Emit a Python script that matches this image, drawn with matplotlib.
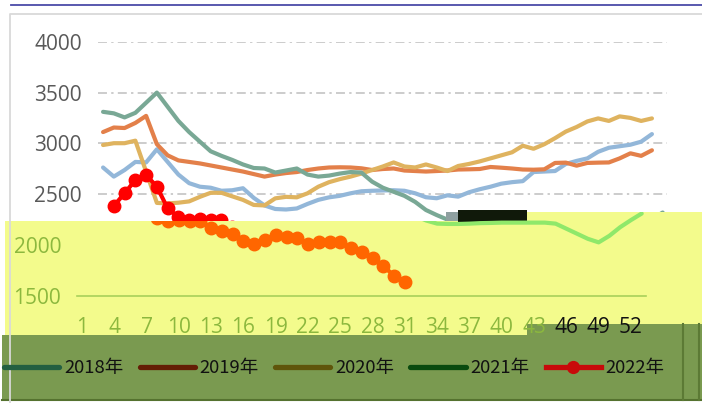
import numpy as np
import matplotlib.pyplot as plt
from matplotlib.patches import Polygon
from matplotlib.lines import Line2D

plt.rcParams['font.family'] = ['Open Sans', 'DejaVu Sans']

# ---- data ----
years = ['2018年', '2019年', '2020年', '2021年', '2022年']
weeks = np.arange(1, 53)
weeks_2021 = np.arange(1, 54)
weeks_2022 = np.arange(2, 32)

s2018 = [2760, 2670, 2735, 2815, 2810, 2940, 2815, 2690, 2605, 2570,
         2560, 2530, 2535, 2555, 2460, 2385, 2350, 2345, 2355, 2400,
         2440, 2465, 2480, 2505, 2525, 2530, 2533, 2535, 2530, 2505,
         2466, 2456, 2485, 2472, 2515, 2545, 2570, 2600, 2615, 2625,
         2715, 2720, 2725, 2795, 2825, 2850, 2915, 2955, 2970, 2985,
         3015, 3090]
s2019 = [3110, 3155, 3150, 3200, 3270, 2990, 2880, 2830, 2815, 2800,
         2780, 2760, 2740, 2720, 2695, 2670, 2690, 2705, 2715, 2735,
         2750, 2760, 2762, 2760, 2752, 2735, 2745, 2750, 2730, 2725,
         2720, 2725, 2730, 2740, 2742, 2745, 2765, 2758, 2750, 2740,
         2738, 2742, 2805, 2808, 2778, 2805, 2808, 2810, 2850, 2900,
         2875, 2930]
s2020 = [2982, 3000, 3000, 3025, 2720, 2410, 2405, 2412, 2425, 2470,
         2510, 2510, 2475, 2440, 2390, 2385, 2455, 2470, 2465, 2505,
         2570, 2615, 2645, 2670, 2700, 2735, 2770, 2810, 2770, 2760,
         2790, 2760, 2725, 2775, 2795, 2820, 2850, 2880, 2910, 2975,
         2945, 2990, 3050, 3115, 3160, 3215, 3245, 3220, 3265, 3250,
         3220, 3245]
s2021 = [3310, 3295, 3255, 3300, 3400, 3500, 3360, 3220, 3110, 3015,
         2920, 2875, 2835, 2790, 2755, 2750, 2710, 2730, 2750, 2690,
         2670, 2680, 2700, 2715, 2710, 2620, 2560, 2520, 2480, 2420,
         2340, 2290, 2245, 2215, 2212, 2212, 2215, 2220, 2222, 2225,
         2225, 2225, 2225, 2225, 2215, 2165, 2115, 2065, 2030, 2095,
         2180, 2250, 2315]
s2022 = [2380, 2505, 2636, 2686, 2570, 2357, 2270, 2241, 2255, 2245,
         2245, 2175, 2143, 2110, 2044, 2017, 2050, 2103, 2083, 2070,
         2017, 2037, 2037, 2037, 1972, 1938, 1873, 1797, 1698, 1642]

xticks = np.arange(1, 53, 3)
yticks = [1500, 2000, 2500, 3000, 3500, 4000]

colors = ['#93b7d9', '#e3804a', '#dfb35f', '#79a895', '#ff0000']
band_colors = ['#93b7d9', '#e3804a', '#dfb35f', '#8fe86a', '#ff6600']
legend_colors = ['#235f41', '#641e05', '#5f550a', '#0a4b0f', '#c80a0a']

W, H = 702, 403
def fx(px):
    return px / W
def fy(py):
    return 1 - py / H
def fpts(pts):
    return [(fx(x), fy(y)) for x, y in pts]

fig = plt.figure(figsize=(7.02, 4.03), dpi=100)
fig.patch.set_facecolor('white')


def draw_series(a, cols):
    a.plot(weeks, s2018, color=cols[0], lw=3, solid_capstyle='round')
    a.plot(weeks, s2019, color=cols[1], lw=3, solid_capstyle='round')
    a.plot(weeks, s2020, color=cols[2], lw=3, solid_capstyle='round')
    a.plot(weeks_2021, s2021, color=cols[3], lw=3, solid_capstyle='round')
    a.plot(weeks_2022, s2022, color=cols[4], lw=3, marker='o', ms=9)
    a.set_xlim(0.53, 53.4)
    a.set_ylim(1500, 4000)
    a.set_xticks(xticks)
    a.set_xticklabels([str(w) for w in xticks])
    for s in a.spines.values():
        s.set_visible(False)
    a.tick_params(length=0, labelsize=15)


# main chart
ax = fig.add_axes([fx(98), fy(295), 569 / W, 253 / H])
draw_series(ax, colors)
ax.set_yticks(yticks)
ax.set_yticklabels([str(v) for v in yticks])
ax.grid(axis='y', color='#cccccc', lw=1.4, linestyle=(0, (4.6, 2.2, 1.2, 2.2)))
ax.tick_params(axis='y', pad=11.5, labelcolor='#595959')
ax.tick_params(axis='x', pad=15, labelcolor='#595959')
ax.set_zorder(0)

# frame + top rule
fig.add_artist(Line2D([fx(10), fx(10), fx(720)], [fy(430), fy(14), fy(14)],
                      color='#d9d9d9', lw=1.3, transform=fig.transFigure))
fig.add_artist(Line2D([fx(11), fx(702)], [fy(4.5), fy(4.5)],
                      color='#4b4ba8', lw=1.3, transform=fig.transFigure))

# yellow band
band = Polygon(fpts([(5, 221), (447, 221), (447, 212), (702, 212), (702, 324),
                     (527, 324), (527, 335), (5, 335)]),
               closed=True, transform=fig.transFigure, fc='#f3fb8c', ec='none', zorder=1)
fig.add_artist(band)

# green strip at the bottom
strip = Polygon(fpts([(2, 335), (527, 335), (527, 324), (702, 324), (702, 400), (2, 400)]),
                closed=True, transform=fig.transFigure, fc='#7a9a50', ec='none', zorder=1.5)
fig.add_artist(strip)
fig.add_artist(Line2D([fx(2), fx(702)], [fy(400), fy(400)], color='#55722f', lw=1.5,
                      transform=fig.transFigure, zorder=1.6))
for xv in (683, 699):
    fig.add_artist(Line2D([fx(xv), fx(xv)], [fy(324), fy(400)], color='#5c7a35', lw=1.5,
                          transform=fig.transFigure, zorder=1.6))
fig.add_artist(Polygon(fpts([(458, 210), (527, 210), (527, 222), (458, 222)]),
                       closed=True, transform=fig.transFigure, fc='#10190a', ec='none', zorder=1.7))
fig.add_artist(Polygon(fpts([(446, 212), (458, 212), (458, 221), (446, 221)]),
                       closed=True, transform=fig.transFigure, fc='#8fa0a0', ec='none', zorder=1.7))

# shifted copy shown inside the yellow band
ax2 = fig.add_axes([fx(77), fy(296), 569 / W, 253 / H])
draw_series(ax2, band_colors)
ax2.patch.set_visible(False)
ax2.set_zorder(2)
ax2.set_yticks([1500, 2000])
ax2.set_yticklabels(['1500', '2000'])
ax2.spines['bottom'].set_visible(True)
ax2.spines['bottom'].set_color('#a8d05a')
ax2.spines['bottom'].set_linewidth(1.2)
ax2.tick_params(axis='y', pad=11.5, labelcolor='#8cb83e')
ax2.tick_params(axis='x', pad=15, labelcolor='#8cb83e')
for ln in ax2.lines:
    ln.set_clip_path(band)
for t in ax2.get_xticklabels():
    if t.get_text() in ('46', '49', '52'):
        t.set_color('#111111')

# legend
handles = []
for i, c in enumerate(legend_colors):
    if i == 4:
        handles.append(Line2D([], [], color=c, lw=3.8, marker='o', ms=8.5))
    else:
        handles.append(Line2D([], [], color=c, lw=3.8, solid_capstyle='round'))
fig.legend(handles, years, ncol=5, loc='center left',
           bbox_to_anchor=(fx(4), fy(368)), frameon=False,
           prop={'family': 'Noto Sans CJK SC', 'size': 13.3},
           handlelength=3.0, handletextpad=0.25, columnspacing=0.88,
           borderpad=0, borderaxespad=0, labelcolor='#111111')

fig.savefig('out.png', dpi=100)
